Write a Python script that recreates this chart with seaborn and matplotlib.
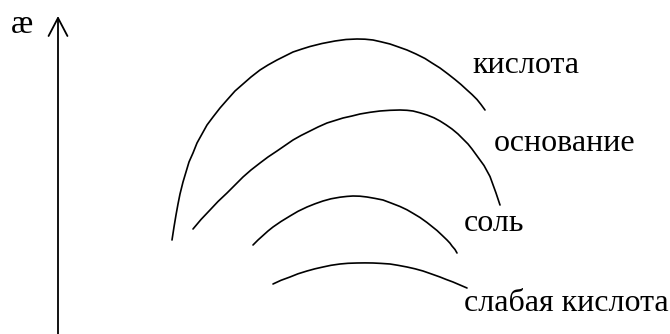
import matplotlib
matplotlib.use('Agg')
import matplotlib.pyplot as plt
import seaborn as sns
import pandas as pd
import numpy as np

sns.set_style('white')
plt.rcParams['font.family'] = ['Liberation Serif', 'DejaVu Serif']

# curve points (pixel coords, y downwards)
acid_x = [172, 174, 176, 178, 180, 183, 186, 189, 193, 197, 202, 207, 213, 220, 227, 235, 243, 251, 260, 268, 277, 285, 293, 302, 310, 322, 335, 346, 357, 365, 373, 381, 390, 398, 407, 416, 425, 432, 440, 448, 455, 461, 467, 472, 477, 481, 485]
acid_y = [240, 227, 215, 204, 194, 182, 172, 162, 153, 143, 134, 125, 117, 108, 100, 91, 84, 77, 70, 65, 60, 56, 52, 49, 46.5, 43.5, 41, 39.5, 39, 39.2, 40, 41.8, 44, 46.8, 50, 54, 58.5, 63, 68, 74, 79.5, 84.5, 90, 94.5, 99.5, 104.5, 110]

base_x = [193, 201, 210, 218, 227, 235, 243, 251, 260, 268, 277, 285, 293, 301, 310, 318, 327, 335, 343, 352, 360, 370, 380, 390, 400, 407, 413, 420, 427, 434, 440, 446, 452, 458, 463, 468, 472, 476, 480, 484, 487, 490, 492, 494, 496, 498, 500]
base_y = [229, 219.5, 210, 201.5, 193, 185, 177, 170, 163, 157, 151, 145.5, 140, 135.5, 131, 127, 123, 120.5, 118, 116, 114, 112.3, 111, 110.3, 110, 110.3, 111, 112.8, 115, 117.8, 121, 124.8, 129, 134, 139, 144, 149, 154.5, 160, 165.5, 171, 176.5, 182, 187.5, 193, 199, 205]

salt_x = [253, 258, 263, 268, 273, 281, 290, 298, 307, 315, 323, 331, 340, 347, 353, 360, 367, 375, 383, 391, 400, 407, 413, 420, 427, 432, 437, 442, 447, 450, 452, 455, 457]
salt_y = [245, 240, 235.5, 231, 227, 221.5, 216, 211.3, 207, 203.8, 201, 198.8, 197.2, 196.4, 196, 196.2, 197, 198.4, 200, 203, 206.5, 209.8, 213.3, 217.5, 222.5, 226.5, 230.5, 235.2, 240, 243.2, 246, 249.5, 253]

weak_x = [273, 281, 290, 298, 307, 315, 323, 331, 340, 348, 357, 365, 373, 381, 390, 398, 407, 415, 423, 431, 440, 446, 453, 460, 467]
weak_y = [284, 280.3, 277, 273.8, 271, 268.8, 267, 265.3, 264, 263.3, 263, 262.9, 263, 263.4, 264, 265.3, 267, 268.8, 271, 273.8, 277, 279.4, 282, 285, 288]

names = ['кислота', 'основание', 'соль', 'слабая кислота']
label_x = [472, 494, 464, 464]
label_y = [73, 151, 231, 311]

df = pd.concat([
    pd.DataFrame({'x': acid_x, 'y': acid_y, 'curve': names[0]}),
    pd.DataFrame({'x': base_x, 'y': base_y, 'curve': names[1]}),
    pd.DataFrame({'x': salt_x, 'y': salt_y, 'curve': names[2]}),
    pd.DataFrame({'x': weak_x, 'y': weak_y, 'curve': names[3]}),
], ignore_index=True)

fig = plt.figure(figsize=(6.7, 3.34), dpi=100)
ax = fig.add_axes([0, 0, 1, 1])

sns.lineplot(data=df, x='x', y='y', units='curve', estimator=None, sort=False,
             color='black', linewidth=1.2, ax=ax)

for name, lx, ly in zip(names, label_x, label_y):
    ax.text(lx, ly, name, fontsize=23, ha='left', va='baseline', color='black')

# y axis arrow
ax.annotate('', xy=(58, 16), xytext=(58, 334),
            arrowprops=dict(arrowstyle='->,head_length=1.3,head_width=0.68',
                            color='black', linewidth=1.3, mutation_scale=10,
                            shrinkA=0, shrinkB=0))
ax.text(11, 33, 'æ', fontsize=24, ha='left', va='baseline', color='black')

ax.set_xlim(0, 670)
ax.set_ylim(334, 0)
ax.axis('off')

fig.savefig('out.png', dpi=100, facecolor='white')
